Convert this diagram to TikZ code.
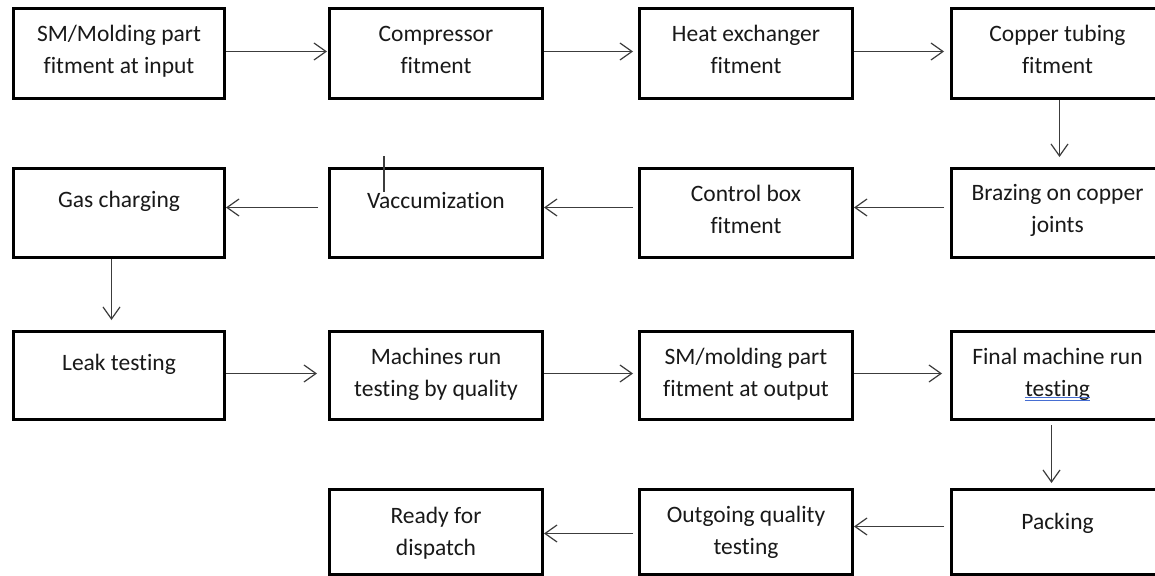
\documentclass[tikz,border=0pt]{standalone}
\usepackage{fontspec}
\setmainfont{Carlito}[Ligatures=NoCommon]
\usetikzlibrary{arrows.meta}
\definecolor{arrgray}{RGB}{60,60,60}
\definecolor{txtgray}{RGB}{25,25,25}
\definecolor{splblue}{RGB}{70,110,210}
\newcommand\bt[4]{\parbox[t][#1][t]{#2}{\centering\rule{0pt}{#3}#4}}
\tikzset{
  box/.style={draw=black, line width=3pt, inner sep=0pt, anchor=north west,
    font=\fontsize{23.5}{32}\selectfont, text=txtgray},
  flow/.style={draw=arrgray, line width=1.2pt, -{Straight Barb[length=12pt,width=17pt]}},
  stray/.style={draw=arrgray, line width=1.2pt},
  spell/.style={draw=splblue, line width=0.9pt},
}
\begin{document}
\begin{tikzpicture}[x=1pt,y=1pt]
\useasboundingbox[fill=white] (0,0) rectangle (1155,-575);
% row 1
\node[box] (b11) at (12,-7)  {\bt{90pt}{211pt}{33pt}{SM/Molding part\\fitment at input}};
\node[box] (b12) at (328,-7) {\bt{90pt}{213pt}{33pt}{Compressor\\fitment}};
\node[box] (b13) at (638,-7) {\bt{90pt}{213pt}{33pt}{Heat exchanger\\fitment}};
\node[box] (b14) at (950,-7) {\bt{90pt}{212pt}{33pt}{Copper tubing\\fitment}};
% row 2
\node[box] (b21) at (12,-167)  {\bt{89pt}{211pt}{39pt}{Gas charging}};
\node[box] (b22) at (328,-167) {\bt{89pt}{213pt}{40pt}{Vaccumization}};
\node[box] (b23) at (638,-167) {\bt{89pt}{213pt}{33pt}{Control box\\fitment}};
\node[box] (b24) at (950,-167) {\bt{89pt}{212pt}{32pt}{Brazing on copper\\joints}};
% row 3
\node[box] (b31) at (12,-330)  {\bt{88pt}{211pt}{39pt}{Leak testing}};
\node[box] (b32) at (328,-330) {\bt{88pt}{213pt}{33pt}{Machines run\\testing by quality}};
\node[box] (b33) at (638,-330) {\bt{88pt}{213pt}{33pt}{SM/molding part\\fitment at output}};
\node[box] (b34) at (950,-330) {\bt{88pt}{212pt}{33pt}{Final machine run\\testing}};
% row 4
\node[box] (b42) at (328,-488) {\bt{85pt}{213pt}{34pt}{Ready for\\dispatch}};
\node[box] (b43) at (638,-488) {\bt{85pt}{213pt}{33pt}{Outgoing quality\\testing}};
\node[box] (b44) at (950,-488) {\bt{85pt}{212pt}{40pt}{Packing}};
% row 1 arrows
\draw[flow, shorten >=1pt] ([yshift=2pt]b11.east) -- ([yshift=2pt]b12.west);
\draw[flow, shorten >=5pt] ([yshift=2pt]b12.east) -- ([yshift=2pt]b13.west);
\draw[flow, shorten >=6pt] ([yshift=2pt]b13.east) -- ([yshift=2pt]b14.west);
% down right
\draw[flow, shorten >=10pt] ([xshift=2pt]b14.south) -- ([xshift=2pt]b24.north);
% row 2 arrows
\draw[flow, shorten <=6pt] ([yshift=5.5pt]b24.west) -- ([yshift=5.5pt]b23.east);
\draw[flow, shorten <=5pt] ([yshift=5.5pt]b23.west) -- ([yshift=5.5pt]b22.east);
\draw[flow, shorten <=10pt] ([yshift=5.5pt]b22.west) -- ([yshift=5.5pt]b21.east);
% stray mark
\draw[stray] ([xshift=56pt,yshift=11pt]b22.north west) -- ([xshift=56pt,yshift=-25pt]b22.north west);
% down left
\draw[flow, shorten >=10pt] ([xshift=-7.5pt]b21.south) -- ([xshift=-7.5pt]b31.north);
% row 3 arrows
\draw[flow, shorten >=11pt] ([yshift=2pt]b31.east) -- ([yshift=2pt]b32.west);
\draw[flow, shorten >=5pt] ([yshift=2pt]b32.east) -- ([yshift=2pt]b33.west);
\draw[flow, shorten >=8pt] ([yshift=2pt]b33.east) -- ([yshift=2pt]b34.west);
% spell-check underline
\draw[spell] ([xshift=-32.7pt,yshift=-67pt]b34.north) -- ([xshift=32.7pt,yshift=-67pt]b34.north);
\draw[spell] ([xshift=-32.7pt,yshift=-70pt]b34.north) -- ([xshift=32.7pt,yshift=-70pt]b34.north);
% down right 2
\draw[flow, shorten <=4pt, shorten >=5pt] ([xshift=-6pt]b34.south) -- ([xshift=-6pt]b44.north);
% row 4 arrows
\draw[flow, shorten <=6pt] ([yshift=5.5pt]b44.west) -- ([yshift=5.5pt]b43.east);
\draw[flow, shorten <=5pt] ([yshift=-1.5pt]b43.west) -- ([yshift=-1.5pt]b42.east);
\end{tikzpicture}
\end{document}
